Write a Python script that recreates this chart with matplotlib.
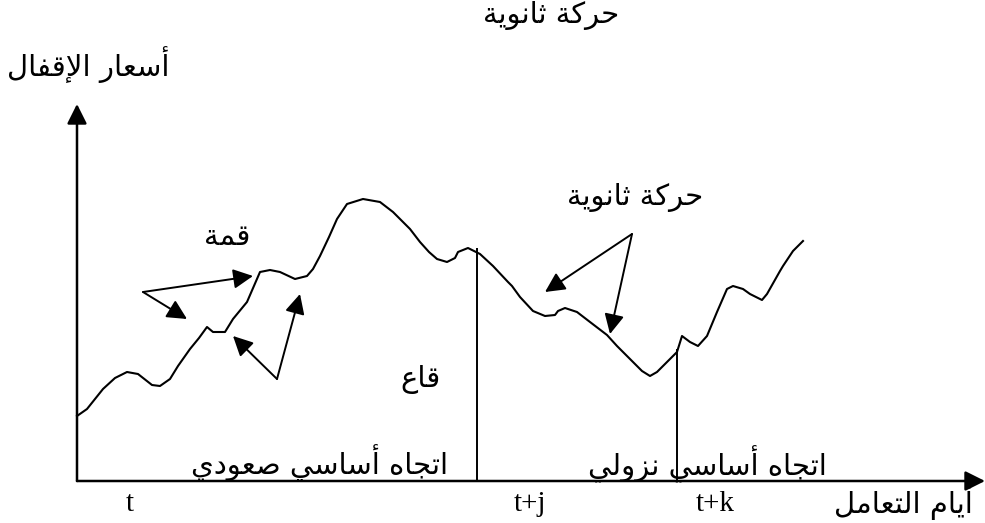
import matplotlib
matplotlib.use("Agg")
import matplotlib.pyplot as plt

# closing price curve (trading days, price units)
days = [0, 10, 26, 38, 50, 61, 75, 83, 93, 101, 113, 122, 130, 136, 148, 156,
        170, 183, 193, 203, 218, 230, 236, 243, 252, 260, 270, 286, 303, 316,
        333, 343, 352, 360, 370, 378, 381, 391, 403, 416, 431, 435, 443, 456,
        468, 478, 481, 488, 500, 513, 530, 540, 553, 565, 573, 580, 590, 600,
        605, 613, 621, 630, 640, 650, 656, 666, 673, 685, 690, 703, 706, 716, 726]
prices = [65, 72, 92, 103, 109, 107, 96, 95, 102, 115, 132, 143, 154, 149, 149, 162,
          179, 209, 211, 209, 202, 205, 212, 225, 244, 262, 277, 282, 279, 269,
          252, 239, 229, 222, 219, 223, 229, 233, 227, 215, 199, 195, 184, 170,
          165, 166, 170, 173, 169, 159, 146, 135, 122, 110, 105, 109, 119, 129,
          145, 139, 135, 145, 169, 192, 195, 192, 187, 181, 187, 210, 215, 230, 240]

# vertical markers at t+j and t+k
marker_days = [400, 600]
marker_tops = [233, 132]

tick_days = [53, 453, 638]
tick_labels = ["t", "t+j", "t+k"]

# arrows: (tail day, tail price, head day, head price)
peak_arrows = [(66, 189, 176, 205), (66, 189, 110, 162)]
trough_arrows = [(200, 102, 156, 145), (200, 102, 223, 187)]
secondary_arrows = [(555, 247, 468, 189), (555, 247, 533, 147)]

x_max, y_max = 908, 377

FORMS = {
    "ا": "\ufe8d\ufe8e", "أ": "\ufe83\ufe84", "إ": "\ufe87\ufe88",
    "ة": "\ufe93\ufe94", "د": "\ufea9\ufeaa", "ر": "\ufead\ufeae",
    "ز": "\ufeaf\ufeb0", "و": "\ufeed\ufeee",
    "ت": "\ufe95\ufe96\ufe97\ufe98", "ث": "\ufe99\ufe9a\ufe9b\ufe9c",
    "ج": "\ufe9d\ufe9e\ufe9f\ufea0", "ح": "\ufea1\ufea2\ufea3\ufea4",
    "س": "\ufeb1\ufeb2\ufeb3\ufeb4", "ص": "\ufeb9\ufeba\ufebb\ufebc",
    "ع": "\ufec9\ufeca\ufecb\ufecc", "ف": "\ufed1\ufed2\ufed3\ufed4",
    "ق": "\ufed5\ufed6\ufed7\ufed8", "ك": "\ufed9\ufeda\ufedb\ufedc",
    "ل": "\ufedd\ufede\ufedf\ufee0", "م": "\ufee1\ufee2\ufee3\ufee4",
    "ن": "\ufee5\ufee6\ufee7\ufee8", "ه": "\ufee9\ufeea\ufeeb\ufeec",
    "ي": "\ufef1\ufef2\ufef3\ufef4",
}
LAM_ALEF = {"ا": "\ufefb\ufefc", "أ": "\ufef7\ufef8", "إ": "\ufef9\ufefa"}


def shape(text):
    # matplotlib does no arabic shaping: pick presentation forms, then reverse
    tokens = []
    i = 0
    while i < len(text):
        c = text[i]
        if c == "ل" and i + 1 < len(text) and text[i + 1] in LAM_ALEF:
            tokens.append(LAM_ALEF[text[i + 1]])
            i += 2
        else:
            tokens.append(FORMS.get(c, c))
            i += 1
    out = []
    for k, f in enumerate(tokens):
        if len(f) < 2:
            out.append(f)
            continue
        prev = k > 0 and len(tokens[k - 1]) == 4
        nxt = len(f) == 4 and k + 1 < len(tokens) and len(tokens[k + 1]) >= 2
        if prev and nxt:
            out.append(f[3])
        elif prev:
            out.append(f[1])
        elif nxt:
            out.append(f[2])
        else:
            out.append(f[0])
    return "".join(reversed(out))


def main():
    fig = plt.figure(figsize=(9.85, 5.23), dpi=100)
    ax = fig.add_axes([77 / 985, 42 / 523, x_max / 985, y_max / 523])
    ax.set_xlim(0, x_max)
    ax.set_ylim(0, y_max)
    ax.set_axis_off()

    ar = dict(family="DejaVu Sans", fontsize=21, ha="center", va="center")
    head = "-|>,head_length=0.6,head_width=0.3"

    # axes with arrow heads
    ax.annotate("", xy=(x_max, 0), xytext=(0, 0), annotation_clip=False,
                arrowprops=dict(arrowstyle=head, mutation_scale=20, color="black",
                                lw=1.8, shrinkA=0, shrinkB=0))
    ax.annotate("", xy=(0, y_max), xytext=(0, 0), annotation_clip=False,
                arrowprops=dict(arrowstyle=head, mutation_scale=20, color="black",
                                lw=1.8, shrinkA=0, shrinkB=0))

    ax.plot(days, prices, color="black", lw=1.5, clip_on=False,
            solid_joinstyle="round")
    ax.vlines(marker_days, 0, marker_tops, color="black", lw=1.4)

    for tx, ty, hx, hy in peak_arrows + trough_arrows + secondary_arrows:
        ax.annotate("", xy=(hx, hy), xytext=(tx, ty),
                    arrowprops=dict(arrowstyle=head, mutation_scale=20,
                                    color="black", lw=1.4, shrinkA=0, shrinkB=0))

    for d, lab in zip(tick_days, tick_labels):
        ax.text(d, -23, lab, family="Liberation Serif", fontsize=21,
                ha="center", va="center", clip_on=False)

    ax.text(474, 465, shape("حركة ثانوية"), clip_on=False, **ar)
    ax.text(11, 416, shape("أسعار الإقفال"), clip_on=False, **ar)
    ax.text(150, 244, shape("قمة"), **ar)
    ax.text(558, 283, shape("حركة ثانوية"), **ar)
    ax.text(344, 102, shape("قاع"), **ar)
    ax.text(243, 18, shape("اتجاه أساسي صعودي"), **ar)
    ax.text(630, 17, shape("اتجاه أساسي نزولي"), **ar)
    ax.text(826, -21, shape("أيام التعامل"), clip_on=False, **ar)

    fig.savefig("out.png", dpi=100, facecolor="white")


if __name__ == '__main__':
    main()
